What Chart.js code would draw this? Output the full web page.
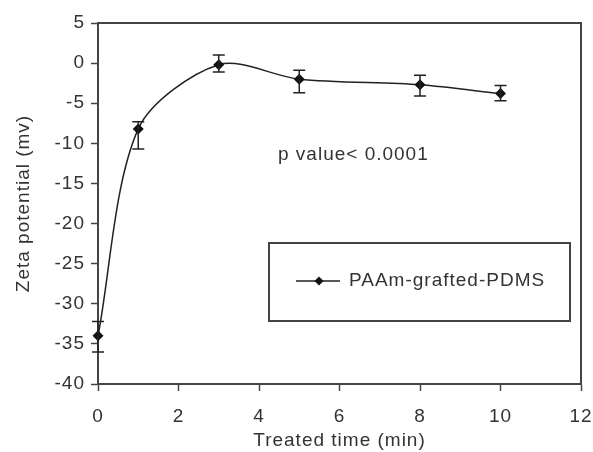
<!DOCTYPE html>
<html>
<head>
<meta charset="utf-8">
<script src="https://cdn.jsdelivr.net/npm/chart.js@4.4.1/dist/chart.umd.min.js"></script>
<style>
html,body{margin:0;padding:0;background:#fff;}
#wrap{width:593px;height:452px;position:relative;}
</style>
</head>
<body>
<div id="wrap"><canvas id="c" width="593" height="452"></canvas></div>
<script>
// ---- data ----
const times = [0, 1, 3, 5, 8, 10];
const zeta = [-34.0, -8.2, -0.2, -2.0, -2.7, -3.8];
const errUpper = [-32.2, -7.3, 1.0, -0.9, -1.5, -2.8];
const errLower = [-36.0, -10.7, -1.1, -3.7, -4.1, -4.7];
const xTicks = [0, 2, 4, 6, 8, 10, 12];
const yTicks = [5, 0, -5, -10, -15, -20, -25, -30, -35, -40];
const seriesName = 'PAAm-grafted-PDMS';
const xTitle = 'Treated time (min)';
const yTitle = 'Zeta potential (mv)';
const note = 'p value< 0.0001';

const FONT = 'Liberation Sans, Arial, sans-serif';
const FS = 19;
const INK = '#333';
const AX = '#444';
const LS = '1px';

const spacing = {
  id: 'spacing',
  beforeUpdate(chart){ chart.ctx.letterSpacing = LS; },
  beforeDraw(chart){ chart.ctx.letterSpacing = LS; }
};

const frame = {
  id: 'frame',
  afterDraw(chart){
    const {ctx, chartArea:a} = chart;
    ctx.save();
    ctx.strokeStyle = AX; ctx.lineWidth = 2;
    ctx.beginPath();
    ctx.moveTo(a.left, a.top); ctx.lineTo(a.right, a.top); ctx.lineTo(a.right, a.bottom);
    ctx.stroke();
    ctx.restore();
  }
};

const errorBars = {
  id: 'errorBars',
  afterDatasetsDraw(chart){
    const {ctx} = chart;
    const xs = chart.scales.x, ys = chart.scales.y;
    ctx.save();
    ctx.strokeStyle = '#222'; ctx.lineWidth = 1.5;
    times.forEach((t, i) => {
      const px = xs.getPixelForValue(t);
      const y1 = ys.getPixelForValue(errUpper[i]);
      const y2 = ys.getPixelForValue(errLower[i]);
      ctx.beginPath();
      ctx.moveTo(px, y1); ctx.lineTo(px, y2);
      ctx.moveTo(px - 6, y1); ctx.lineTo(px + 6, y1);
      ctx.moveTo(px - 6, y2); ctx.lineTo(px + 6, y2);
      ctx.stroke();
    });
    ctx.restore();
  }
};

const annot = {
  id: 'annot',
  afterDraw(chart){
    const {ctx, chartArea:a} = chart;
    ctx.save();
    ctx.letterSpacing = LS;
    ctx.fillStyle = INK;
    ctx.font = FS + 'px ' + FONT;
    ctx.textBaseline = 'alphabetic';
    ctx.textAlign = 'left';
    ctx.fillText(note, a.left + 180, a.top + 137);
    // legend box
    const bx = a.left + 171, by = a.top + 220, bw = 301, bh = 78;
    ctx.strokeStyle = AX; ctx.lineWidth = 2;
    ctx.strokeRect(bx, by, bw, bh);
    const ly = by + 38;
    ctx.strokeStyle = '#222'; ctx.lineWidth = 1.5;
    ctx.beginPath(); ctx.moveTo(bx + 27, ly); ctx.lineTo(bx + 71, ly); ctx.stroke();
    ctx.fillStyle = '#111';
    const mx = bx + 50, r = 4.5;
    ctx.beginPath();
    ctx.moveTo(mx, ly - r); ctx.lineTo(mx + r, ly); ctx.lineTo(mx, ly + r); ctx.lineTo(mx - r, ly);
    ctx.closePath(); ctx.fill();
    ctx.fillStyle = INK;
    ctx.font = FS + 'px ' + FONT;
    ctx.textBaseline = 'middle';
    ctx.fillText(seriesName, bx + 80, ly);
    ctx.restore();
  }
};

new Chart(document.getElementById('c'), {
  type: 'line',
  data: {
    datasets: [{
      label: seriesName,
      data: times.map((t, i) => ({x: t, y: zeta[i]})),
      borderColor: '#222',
      borderWidth: 1.5,
      backgroundColor: '#111',
      pointStyle: 'rectRot',
      pointRadius: 5.5,
      pointBorderWidth: 0,
      pointBackgroundColor: '#111',
      tension: 0.3,
      fill: false,
      clip: false
    }]
  },
  options: {
    responsive: false,
    animation: false,
    devicePixelRatio: 1,
    layout: {padding: {left: 0, top: 23, right: 12, bottom: 0}},
    plugins: {legend: {display: false}, tooltip: {enabled: false}},
    scales: {
      x: {
        type: 'linear', min: 0, max: 12,
        afterBuildTicks(s){ s.ticks = xTicks.map(v => ({value: v})); },
        afterFit(s){ s.height = 68; s.paddingLeft = 0; s.paddingRight = 0; },
        grid: {display: true, drawOnChartArea: false, drawTicks: true, tickLength: 7, tickColor: AX, tickWidth: 1.5},
        border: {display: true, color: AX, width: 2},
        ticks: {color: INK, font: {family: FONT, size: FS}, padding: 14, maxRotation: 0, autoSkip: false},
        title: {display: true, text: xTitle, color: INK, font: {family: FONT, size: FS}, padding: {top: 0, bottom: 0}}
      },
      y: {
        type: 'linear', min: -40, max: 5,
        afterBuildTicks(s){ s.ticks = yTicks.map(v => ({value: v})); },
        afterFit(s){ s.width = 98; s.paddingTop = 0; s.paddingBottom = 0; },
        grid: {display: true, drawOnChartArea: false, drawTicks: true, tickLength: 7, tickColor: AX, tickWidth: 1.5},
        border: {display: true, color: AX, width: 2},
        ticks: {color: INK, font: {family: FONT, size: FS}, padding: 6, autoSkip: false},
        title: {display: true, text: yTitle, color: INK, font: {family: FONT, size: FS}, padding: {top: 12, bottom: 0}}
      }
    }
  },
  plugins: [spacing, errorBars, frame, annot]
});
</script>
</body>
</html>
